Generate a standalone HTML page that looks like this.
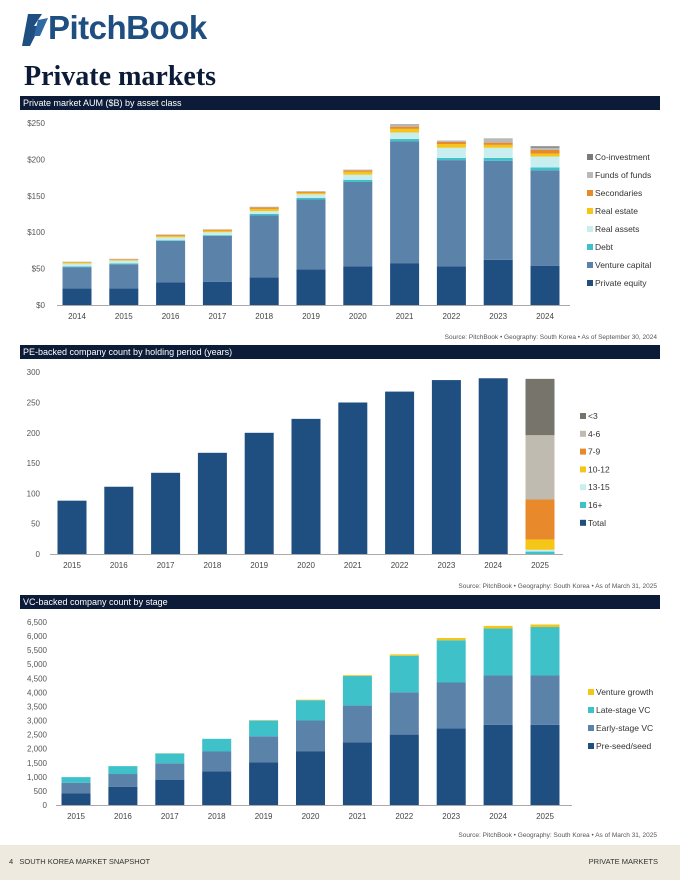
<!DOCTYPE html>
<html><head><meta charset="utf-8">
<style>
body{margin:0;width:680px;height:880px;background:#fff;position:relative;overflow:hidden;font-family:"Liberation Sans",sans-serif;}
.bar{position:absolute;left:20px;width:640px;height:14px;background:#0c1c38;color:#fff;font-size:9px;line-height:14px;padding-left:3px;box-sizing:border-box;}
.src{position:absolute;right:23px;font-size:6.5px;color:#555;}
svg{position:absolute;left:0;top:0}
svg text{font-family:"Liberation Sans",sans-serif;}
</style></head><body>
<div style="position:absolute;left:20px;top:12px;height:36px;">
<svg width="30" height="34" style="position:absolute;left:0;top:2px"><path d="M8 0 L22 0 L14 12 L20 12 L10 32 L2 32 Z" fill="#1f4e80"/><path d="M18 6 L28 4 L20 22 L14 22 Z" fill="#2f6aa3"/></svg>
<span style="position:absolute;left:28px;top:-3px;font-size:33px;font-weight:bold;color:#1f4e80;letter-spacing:-0.5px;white-space:nowrap">PitchBook</span></div>
<div style="position:absolute;left:24px;top:60px;font-family:'Liberation Serif',serif;font-weight:bold;font-size:28px;color:#0c1c38;line-height:34px">Private markets</div>
<div class="bar" style="top:96px">Private market AUM ($B) by asset class</div>
<div class="bar" style="top:345px">PE-backed company count by holding period (years)</div>
<div class="bar" style="top:595px">VC-backed company count by stage</div>
<div class="src" style="top:334px">Source: PitchBook • Geography: South Korea • As of September 30, 2024</div>
<div class="src" style="top:583px">Source: PitchBook • Geography: South Korea • As of March 31, 2025</div>
<div class="src" style="top:832px">Source: PitchBook • Geography: South Korea • As of March 31, 2025</div>
<div style="position:absolute;left:0;top:845px;width:680px;height:35px;background:#eeeadf;font-size:7.5px;color:#333;">
<span style="position:absolute;left:9px;top:12px">4&nbsp;&nbsp;&nbsp;SOUTH KOREA MARKET SNAPSHOT</span>
<span style="position:absolute;right:22px;top:12px">PRIVATE MARKETS</span></div>
<svg id="svg" width="680" height="880"></svg>
<script>
// Chart 1 data
const aumYears=["2014","2015","2016","2017","2018","2019","2020","2021","2022","2023","2024"];
const aumPE=[23,23,31,32,38,49,53,57,53,62,54];
const aumVC=[29,33,57,63,85,96,116,168,146,136,131];
const aumDebt=[1,1,1,1,2,2,3,3,3,4,4];
const aumRealAssets=[4,4,4,4,4,5,7,9,14,14,15];
const aumRealEstate=[1.5,1,2,2,3,2,4,5,5,4,4];
const aumSecondaries=[0.5,1,1.5,1.5,2,1.5,2,3,3,3,5];
const aumFoF=[0.5,0.5,0.5,0.5,1,1,1,2,2,6,3];
const aumCoInv=[0,0,0,0,0,0,0,1,0,0,2];
const aumTicks=["$0","$50","$100","$150","$200","$250"];
const aumLegend=["Co-investment","Funds of funds","Secondaries","Real estate","Real assets","Debt","Venture capital","Private equity"];
// Chart 2 data
const peYears=["2015","2016","2017","2018","2019","2020","2021","2022","2023","2024","2025"];
const peTotal=[88,111,134,167,200,223,250,268,287,290,0];
const pe16=[0,0,0,0,0,0,0,0,0,0,4];
const pe13=[0,0,0,0,0,0,0,0,0,0,3];
const pe10=[0,0,0,0,0,0,0,0,0,0,17];
const pe7=[0,0,0,0,0,0,0,0,0,0,66];
const pe4=[0,0,0,0,0,0,0,0,0,0,106];
const pe3=[0,0,0,0,0,0,0,0,0,0,93];
const peTicks=["0","50","100","150","200","250","300"];
const peLegend=["<3","4-6","7-9","10-12","13-15","16+","Total"];
// Chart 3 data
const vcYears=["2015","2016","2017","2018","2019","2020","2021","2022","2023","2024","2025"];
const vcSeed=[420,650,900,1200,1520,1900,2230,2500,2720,2850,2850];
const vcEarly=[370,450,580,700,920,1100,1300,1500,1630,1750,1750];
const vcLate=[200,280,350,450,560,720,1050,1300,1500,1670,1720];
const vcGrowth=[0,0,5,0,10,20,30,50,80,90,90];
const vcTicks=["0","500","1,000","1,500","2,000","2,500","3,000","3,500","4,000","4,500","5,000","5,500","6,000","6,500"];
const vcLegend=["Venture growth","Late-stage VC","Early-stage VC","Pre-seed/seed"];

const svg=document.getElementById('svg');
const NS='http://www.w3.org/2000/svg';
function mk(tag,attrs){const e=document.createElementNS(NS,tag);for(const k in attrs)e.setAttribute(k,attrs[k]);svg.appendChild(e);return e;}
function chart(cfg){
  const yS=v=>cfg.y0-(v/cfg.step)*cfg.stepPx;
  const xS=i=>cfg.x0+i*cfg.dx;
  cfg.ticks.forEach((t,i)=>{const tx=mk('text',{x:cfg.tickX,y:yS(i*cfg.step)+3,'text-anchor':'end','font-size':8,fill:'#555'});tx.textContent=t;
    
    });
  const ax=mk('line',{x1:cfg.axL,x2:cfg.axR,y1:cfg.y0+0.5,y2:cfg.y0+0.5,stroke:'#aaa','stroke-width':1});
  
  
  cfg.cats.forEach((c,i)=>{
    let acc=0;
    cfg.series.forEach((s,si)=>{
      const v=s[i];if(!v)return;
      const r=mk('rect',{x:xS(i)-cfg.bw/2,y:yS(acc+v),width:cfg.bw,height:yS(acc)-yS(acc+v),fill:cfg.colors[si]});
      
      
      acc+=v;});
    const t=mk('text',{x:xS(i),y:cfg.y0+14,'text-anchor':'middle','font-size':8,fill:'#444'});t.textContent=c;
    
    
  });
  cfg.legend.forEach((l,i)=>{
    const y=cfg.legY+i*cfg.legDy;
    const r=mk('rect',{x:cfg.legX,y:y-3,width:6,height:6,fill:cfg.legColors[i]});
    
    
    const t=mk('text',{x:cfg.legX+8,y:y+3,'font-size':8.5,fill:'#333'});t.textContent=l;
    
    
  });
}
const cPE='#1f4e80',cVC='#5b82a8',cDebt='#3fc1c9',cRA='#c9eef0',cRE='#f5c518',cSec='#e8892c',cFoF='#b9b9b9',cCo='#7a7a7a';
chart({cats:aumYears,series:[aumPE,aumVC,aumDebt,aumRealAssets,aumRealEstate,aumSecondaries,aumFoF,aumCoInv],
  names:['pe','vc','debt','real-assets','real-estate','secondaries','fof','co-investment'],
  colors:[cPE,cVC,cDebt,cRA,cRE,cSec,cFoF,cCo],ticks:aumTicks,step:50,stepPx:36.4,y0:305,x0:77,dx:46.8,bw:29,tickX:45,axL:57,axR:570,
  legend:aumLegend,legColors:[cCo,cFoF,cSec,cRE,cRA,cDebt,cVC,cPE],legX:587,legY:157,legDy:18});
chart({cats:peYears,series:[peTotal,pe16,pe13,pe10,pe7,pe4,pe3],
  names:['total','16plus','13-15','10-12','7-9','4-6','lt3'],
  colors:[cPE,cDebt,cRA,cRE,cSec,'#bfbbb0','#77746c'],ticks:peTicks,step:50,stepPx:30.3,y0:554,x0:72,dx:46.8,bw:29,tickX:40,axL:50,axR:563,
  legend:peLegend,legColors:['#77746c','#bfbbb0',cSec,cRE,cRA,cDebt,cPE],legX:580,legY:416,legDy:17.8});
chart({cats:vcYears,series:[vcSeed,vcEarly,vcLate,vcGrowth],
  names:['pre-seed','early-stage','late-stage','venture-growth'],
  colors:[cPE,cVC,cDebt,cRE],ticks:vcTicks,step:500,stepPx:14.08,y0:805,x0:76,dx:46.9,bw:29,tickX:47,axL:56,axR:572,
  legend:vcLegend,legColors:[cRE,cDebt,cVC,cPE],legX:588,legY:692,legDy:18});
</script>
</body></html>
